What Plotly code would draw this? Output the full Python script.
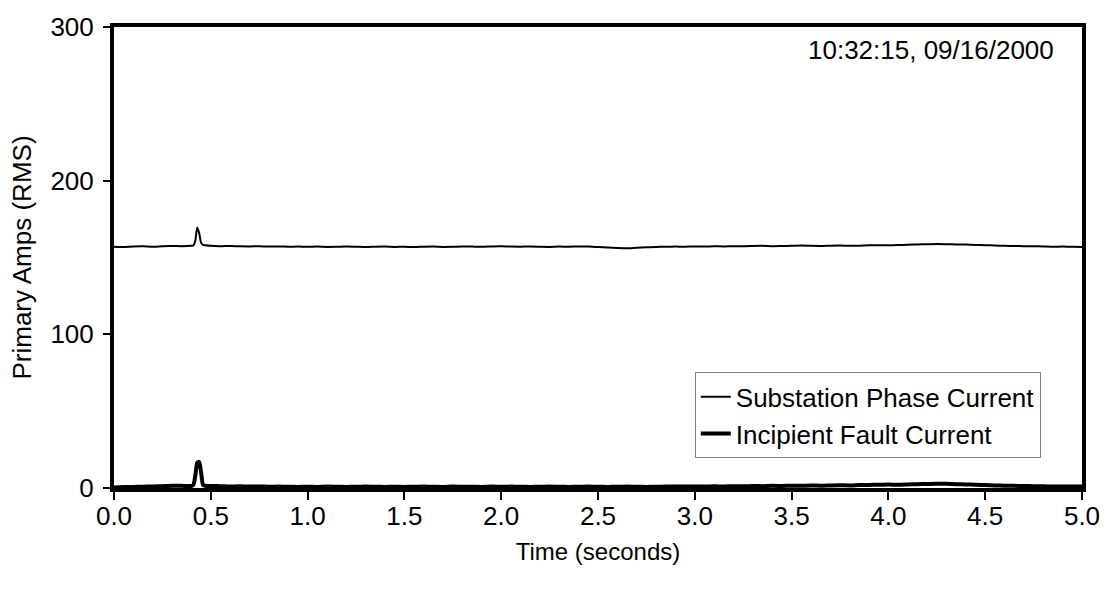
import plotly.graph_objects as go

# Sample times (seconds)
time_s = [0.00, 0.05, 0.10, 0.15, 0.20, 0.25, 0.30, 0.35, 0.40,
          0.41, 0.42, 0.43, 0.44, 0.45, 0.46, 0.47,
          0.50, 0.55, 0.60, 0.65, 0.70, 0.75, 0.80, 0.85, 0.90, 0.95,
          1.00, 1.05, 1.10, 1.15, 1.20, 1.25, 1.30, 1.35, 1.40, 1.45,
          1.50, 1.55, 1.60, 1.65, 1.70, 1.75, 1.80, 1.85, 1.90, 1.95,
          2.00, 2.05, 2.10, 2.15, 2.20, 2.25, 2.30, 2.35, 2.40, 2.45,
          2.50, 2.55, 2.60, 2.65, 2.70, 2.75, 2.80, 2.85, 2.90, 2.95,
          3.00, 3.05, 3.10, 3.15, 3.20, 3.25, 3.30, 3.35, 3.40, 3.45,
          3.50, 3.55, 3.60, 3.65, 3.70, 3.75, 3.80, 3.85, 3.90, 3.95,
          4.00, 4.05, 4.10, 4.15, 4.20, 4.25, 4.30, 4.35, 4.40, 4.45,
          4.50, 4.55, 4.60, 4.65, 4.70, 4.75, 4.80, 4.85, 4.90, 4.95,
          5.00]

# Substation phase current, primary amps RMS
substation_amps = [157.0, 156.8, 157.2, 157.3, 157.0, 157.4, 157.5, 157.3, 157.6,
                   157.8, 161.0, 169.5, 166.0, 159.5, 158.2, 158.0,
                   157.6, 157.4, 157.5, 157.3, 157.2, 157.3, 157.1, 157.2, 157.0, 157.1,
                   157.0, 157.1, 156.9, 157.0, 157.2, 157.0, 156.8, 157.0, 157.1, 156.9,
                   157.0, 156.8, 157.0, 157.1, 156.9, 157.0, 157.2, 157.1, 157.0, 157.2,
                   157.3, 157.1, 157.0, 157.2, 157.0, 156.9, 157.1, 157.0, 157.2, 157.1,
                   156.8, 156.5, 156.2, 156.0, 156.4, 156.6, 156.9, 157.0, 157.1, 157.0,
                   157.2, 157.1, 157.3, 157.2, 157.4, 157.3, 157.5, 157.6, 157.4, 157.5,
                   157.6, 157.8, 157.6, 157.5, 157.7, 157.8, 157.6, 157.7, 157.9, 158.0,
                   158.0, 158.1, 158.3, 158.5, 158.6, 158.8, 158.7, 158.5, 158.4, 158.2,
                   158.0, 157.8, 157.6, 157.5, 157.4, 157.3, 157.2, 157.0, 157.1, 157.0,
                   156.9]

# Incipient fault current, primary amps RMS
fault_amps = [0.4, 0.6, 0.7, 0.8, 1.0, 1.2, 1.5, 1.4, 1.3,
              2.0, 8.0, 16.5, 17.0, 10.0, 2.0, 1.5,
              1.3, 1.2, 1.0, 1.1, 0.9, 1.0, 0.8, 0.9, 0.8, 0.7,
              0.8, 0.7, 0.9, 0.8, 0.7, 0.8, 0.9, 0.8, 0.7, 0.8,
              0.7, 0.8, 0.9, 0.8, 0.7, 0.9, 0.8, 0.8, 0.7, 0.9,
              0.8, 0.9, 0.8, 0.7, 0.8, 0.9, 0.8, 0.7, 0.8, 0.9,
              0.8, 0.7, 0.8, 0.9, 0.8, 0.7, 0.8, 0.9, 1.0, 0.9,
              1.0, 0.9, 1.1, 1.0, 1.2, 1.1, 1.3, 1.2, 1.4, 1.3,
              1.5, 1.4, 1.6, 1.5, 1.7, 1.8, 1.7, 1.9, 2.0, 2.1,
              2.2, 2.1, 2.3, 2.5, 2.6, 2.8, 2.7, 2.5, 2.3, 2.1,
              1.9, 1.7, 1.5, 1.4, 1.3, 1.2, 1.1, 1.0, 1.0, 0.9,
              0.9]

x_ticks = [0.0, 0.5, 1.0, 1.5, 2.0, 2.5, 3.0, 3.5, 4.0, 4.5, 5.0]
y_ticks = [0, 100, 200, 300]

FONT = "Liberation Sans, Arial, sans-serif"

fig = go.Figure()
fig.add_trace(go.Scatter(
    x=time_s, y=substation_amps, mode="lines",
    name="Substation Phase Current",
    line=dict(color="black", width=2, shape="spline", smoothing=0.6),
))
fig.add_trace(go.Scatter(
    x=time_s, y=fault_amps, mode="lines",
    name="Incipient Fault Current",
    line=dict(color="black", width=4, shape="spline", smoothing=0.6),
))

fig.add_annotation(
    text="10:32:15, 09/16/2000", xref="paper", yref="paper",
    x=0.973, y=0.95, xanchor="right", yanchor="middle",
    showarrow=False, font=dict(family=FONT, size=26, color="black"),
)

fig.update_layout(
    width=1112, height=594,
    margin=dict(l=114, r=24, t=18, b=106),
    paper_bgcolor="white", plot_bgcolor="white",
    font=dict(family=FONT, size=26, color="black"),
    showlegend=True,
    legend=dict(
        x=0.6, y=0.251, xanchor="left", yanchor="top",
        bgcolor="white", bordercolor="#808080", borderwidth=1,
        font=dict(family=FONT, size=26, color="black"),
        tracegroupgap=0, entrywidth=335,
    ),
    xaxis=dict(
        range=[0, 5], tickvals=x_ticks,
        ticktext=[f"{v:.1f}" for v in x_ticks],
        showgrid=False, zeroline=False,
        showline=True, linecolor="black", linewidth=4, mirror=True,
        ticks="outside", ticklen=8, tickwidth=2, tickcolor="black",
        ticklabelstandoff=-6,
        tickfont=dict(family=FONT, size=26),
        title=dict(text="Time (seconds)", font=dict(family=FONT, size=24), standoff=14),
    ),
    yaxis=dict(
        range=[0, 300], tickvals=y_ticks,
        showgrid=False, zeroline=False,
        showline=True, linecolor="black", linewidth=4, mirror=True,
        ticks="outside", ticklen=7, tickwidth=2, tickcolor="black",
        ticklabelstandoff=4,
        tickfont=dict(family=FONT, size=26),
        title=dict(text="Primary Amps (RMS)", font=dict(family=FONT, size=26), standoff=12),
    ),
)

fig.write_html("out.html")
